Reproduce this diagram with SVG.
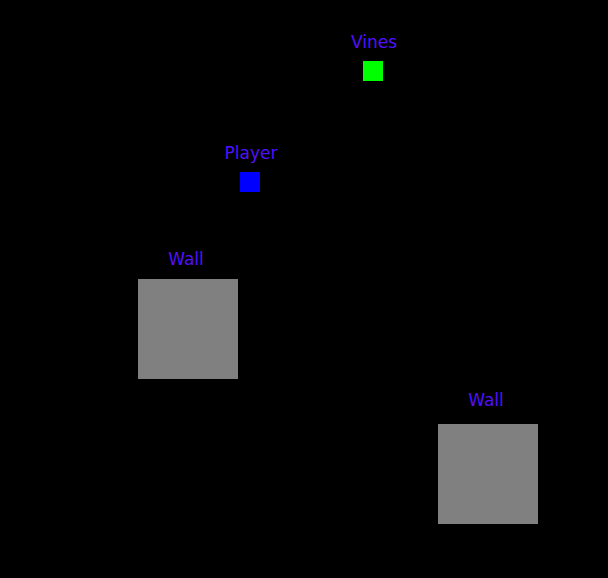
<svg xmlns="http://www.w3.org/2000/svg" width="608" height="578" viewBox="0 0 608 578">
<style>
.lbl{font-family:"DejaVu Sans",Verdana,sans-serif;font-size:17px;fill:#5010ff;text-anchor:middle}
.wall{fill:#808080}
</style>
<rect x="0" y="0" width="608" height="578" fill="#000"/>
<g id="connectors"></g>
<g id="vines"><text class="lbl" x="374" y="48">Vines</text><rect x="363" y="61" width="20" height="20" fill="#00ff00"/></g>
<g id="player"><text class="lbl" x="251" y="159">Player</text><rect x="240" y="172" width="20" height="20" fill="#0000ff"/></g>
<g id="wall1"><text class="lbl" x="186" y="265">Wall</text><rect class="wall" x="138" y="279" width="100" height="100"/></g>
<g id="wall2"><text class="lbl" x="486" y="406">Wall</text><rect class="wall" x="438" y="424" width="100" height="100"/></g>
</svg>
